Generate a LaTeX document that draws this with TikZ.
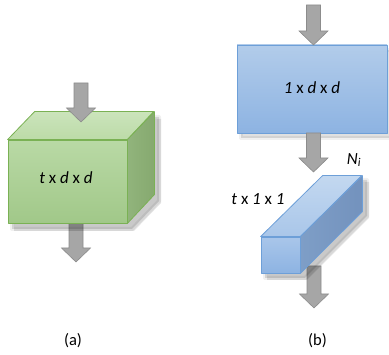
\documentclass[tikz,border=0pt]{standalone}
\usepackage{fontspec}
\setmainfont{Carlito}
\definecolor{arrfill}{HTML}{A6A6A6}
\definecolor{arrline}{HTML}{8C8C8C}
\definecolor{gline}{HTML}{7AB154}
\definecolor{bline}{HTML}{6D9FD8}
\definecolor{gfrontT}{HTML}{B9D9A5}
\definecolor{gfrontB}{HTML}{A1C889}
\definecolor{gtopT}{HTML}{CBE4BB}
\definecolor{gtopB}{HTML}{BCDBA8}
\definecolor{gsideL}{HTML}{91B47C}
\definecolor{gsideR}{HTML}{86A96F}
\definecolor{bfrontT}{HTML}{B2CCEA}
\definecolor{bfrontB}{HTML}{8DB3E2}
\definecolor{barfrontT}{HTML}{A9C6EA}
\definecolor{bartopT}{HTML}{C3D8F0}
\definecolor{bartopB}{HTML}{A9C6E9}
\definecolor{barsideL}{HTML}{7E9EC7}
\definecolor{barsideR}{HTML}{7392BD}
\tikzset{
  garrow/.style={fill=arrfill, draw=arrline, line width=0.6pt, line join=miter},
  shadowA/.style={fill=black, opacity=0.12, draw=black, draw opacity=0.06, line width=4pt, line join=round},
  shadowB/.style={fill=black, opacity=0.10},
  gface/.style={draw=gline, line width=0.8pt, line join=round},
  bface/.style={draw=bline, line width=0.8pt, line join=round},
  dimtext/.style={font=\fontsize{17}{20}\selectfont, inner sep=0pt},
  captext/.style={font=\fontsize{16.5}{19}\selectfont, inner sep=0pt}
}
\newcommand\blockarrow[3]{%
  \filldraw[garrow] (#1-7,#2) -- (#1+7,#2) -- (#1+7,#3-14) -- (#1+14.5,#3-14)
    -- (#1,#3) -- (#1-14.5,#3-14) -- (#1-7,#3-14) -- cycle;}
\begin{document}
\begin{tikzpicture}[x=1pt,y=-1pt]
\useasboundingbox (0,0) rectangle (389,355);

% arrows behind the shapes
\blockarrow{76}{223}{262}
\blockarrow{314}{266}{308}

% ---------- (a) green cube ----------
\fill[shadowA] (12,145) -- (39,117) -- (159,117) -- (159,201) -- (132,229) -- (12,229) -- cycle;
\fill[shadowB] (14,147) -- (41,119) -- (161,119) -- (161,203) -- (134,231) -- (14,231) -- cycle;
\node (cubefront) [rectangle, minimum width=119pt, minimum height=83pt, inner sep=0pt,
  gface, top color=gfrontT, bottom color=gfrontB] at (67.5,181.5) {};
\path[gface, top color=gtopT, bottom color=gtopB]
  (cubefront.north west) -- ++(27,-28) -- ++(119,0) -- (cubefront.north east) -- cycle;
\path[gface, left color=gsideL, right color=gsideR]
  (cubefront.north east) -- ++(27,-28) -- ++(0,83) -- (cubefront.south east) -- cycle;
\node (cubetext) [dimtext] at (66,178) {\textit{t} x \textit{d} x \textit{d}};
\blockarrow{81}{83}{122}

% ---------- (b) blue box ----------
\fill[shadowA] (241,50) -- (391,50) -- (391,138) -- (241,138) -- cycle;
\node (boxfront) [rectangle, minimum width=150pt, minimum height=88pt, inner sep=0pt,
  bface, top color=bfrontT, bottom color=bfrontB] at (312,89) {};
\node (boxtext) [dimtext] at (312,88) {\textit{1} x \textit{d} x \textit{d}};
\blockarrow{313.5}{5}{45}
\blockarrow{313.5}{133}{172}

% ---------- (b) bar ----------
\fill[shadowA] (265,241) -- (327,180) -- (367,180) -- (367,216) -- (305,278) -- (265,278) -- cycle;
\fill[shadowB] (267,243) -- (329,182) -- (369,182) -- (369,218) -- (307,280) -- (267,280) -- cycle;
\node (barfront) [rectangle, minimum width=39pt, minimum height=36pt, inner sep=0pt,
  bface, top color=barfrontT, bottom color=bfrontB] at (280.5,255) {};
\path[bface, top color=bartopT, bottom color=bartopB]
  (barfront.north west) -- ++(62,-61) -- ++(39,0) -- (barfront.north east) -- cycle;
\path[bface, left color=barsideL, right color=barsideR]
  (barfront.north east) -- ++(62,-61) -- ++(0,36) -- (barfront.south east) -- cycle;
\node (barlen) [dimtext] at (258,199) {\textit{t} x \textit{1} x \textit{1}};
\node (barN) [dimtext] at (354,160) {\textit{N\textsubscript{i}}};

% captions
\node (capa) [captext] at (73,341) {(a)};
\node (capb) [captext] at (317.5,341) {(b)};
\end{tikzpicture}
\end{document}
